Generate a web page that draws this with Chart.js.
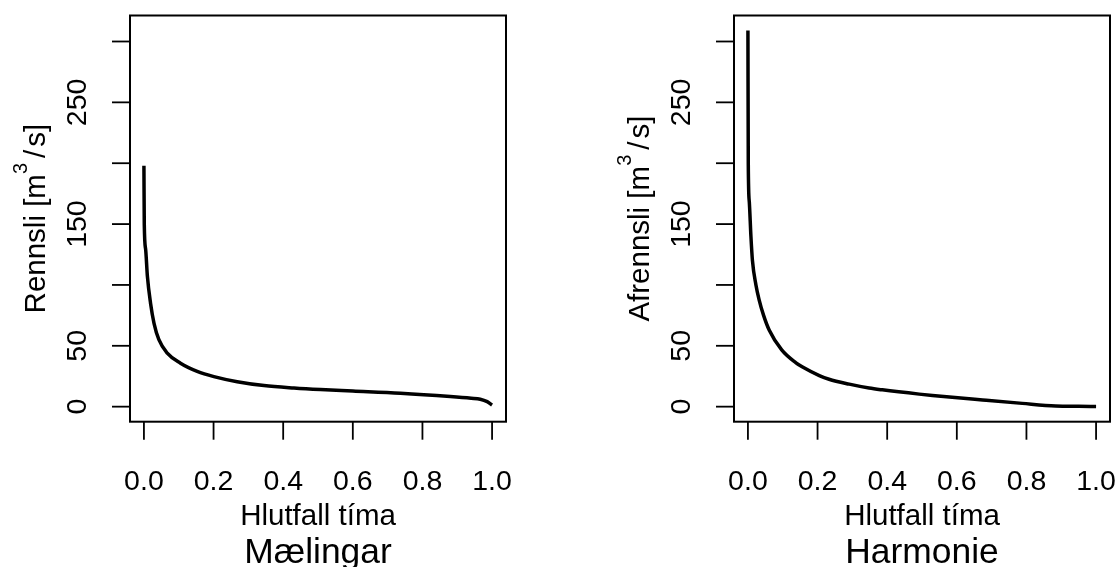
<!DOCTYPE html>
<html>
<head>
<meta charset="utf-8">
<script src="https://cdn.jsdelivr.net/npm/chart.js@4"></script>
<style>
  html, body { margin: 0; padding: 0; background: #ffffff; width: 1119px; height: 567px; overflow: hidden; }
  canvas { position: absolute; top: 0; }
  #c1 { left: 0px; }
  #c2 { left: 604px; }
</style>
</head>
<body>
<canvas id="c1" width="515" height="567"></canvas>
<canvas id="c2" width="515" height="567"></canvas>
<script>
// ---- data ----
const maelingarX = [0.000, 0.001, 0.005, 0.010, 0.019, 0.029, 0.043, 0.067, 0.105, 0.153, 0.201, 0.268, 0.345, 0.431, 0.507, 0.600, 0.737, 0.880, 0.940, 0.966, 0.986, 1.000];
const maelingarQ = [198, 150, 129, 107, 85, 68.5, 55, 44, 35.7, 29, 24.7, 20.5, 17.3, 15.3, 14, 12.8, 11, 8.3, 6.9, 6.1, 4.1, 1.4];

const harmonieX = [0.000, 0.001, 0.004, 0.0086, 0.013, 0.023, 0.032, 0.045, 0.061, 0.097, 0.138, 0.157, 0.205, 0.233, 0.291, 0.348, 0.386, 0.492, 0.530, 0.674, 0.788, 0.884, 0.950, 1.000];
const harmonieQ = [309, 200, 168, 140, 120, 100, 88, 75, 63, 46.6, 36, 32.5, 25.5, 22.5, 18.5, 15.3, 13.8, 10.3, 9.2, 5.5, 2.7, 0.6, 0.3, 0.2];

const xTicks = [0, 0.2, 0.4, 0.6, 0.8, 1.0];
const xTickLabels = ['0.0', '0.2', '0.4', '0.6', '0.8', '1.0'];
const yTicks = [0, 50, 100, 150, 200, 250, 300];
const yTickLabels = ['0', '50', '', '150', '', '250', ''];

const xTitle = 'Hlutfall tíma';
const panelTitles = ['Mælingar', 'Harmonie'];
const yTitleWords = ['Rennsli', 'Afrennsli'];

const FONT = '"Liberation Sans", Arial, sans-serif';

function makeAxesPlugin(yWord, title) {
  return {
    id: 'rAxes',
    afterDraw(chart) {
      const ctx = chart.ctx;
      const a = chart.chartArea;
      const xs = chart.scales.x, ys = chart.scales.y;
      ctx.save();
      ctx.strokeStyle = '#000';
      ctx.fillStyle = '#000';
      // box
      ctx.lineWidth = 2;
      ctx.strokeRect(a.left, a.top, a.right - a.left, a.bottom - a.top);
      // x ticks
      ctx.lineWidth = 1.8;
      ctx.font = '28.5px ' + FONT;
      ctx.textAlign = 'center';
      ctx.textBaseline = 'alphabetic';
      xTicks.forEach((v, i) => {
        const px = xs.getPixelForValue(v);
        ctx.beginPath();
        ctx.moveTo(px, a.bottom);
        ctx.lineTo(px, a.bottom + 18);
        ctx.stroke();
        ctx.fillText(xTickLabels[i], px, a.bottom + 68.7);
      });
      // y ticks
      yTicks.forEach((v, i) => {
        const py = ys.getPixelForValue(v);
        ctx.beginPath();
        ctx.moveTo(a.left, py);
        ctx.lineTo(a.left - 18, py);
        ctx.stroke();
        if (yTickLabels[i]) {
          ctx.save();
          ctx.translate(a.left - 44.5, py);
          ctx.rotate(-Math.PI / 2);
          ctx.textAlign = 'center';
          ctx.fillText(yTickLabels[i], 0, 0);
          ctx.restore();
        }
      });
      // x title
      const cx = (a.left + a.right) / 2;
      ctx.font = '29.5px ' + FONT;
      ctx.textAlign = 'center';
      ctx.fillText(xTitle, cx, 525);
      // panel title
      ctx.font = '35.4px ' + FONT;
      ctx.fillText(title, cx, 563);
      // y title with superscript
      const cy = (a.top + a.bottom) / 2;
      const mainFont = '29.5px ' + FONT;
      const supFont = '20px ' + FONT;
      const part1 = yWord + ' [m';
      ctx.font = mainFont;
      const w1 = ctx.measureText(part1).width;
      const wSlash = ctx.measureText('/').width;
      const wEnd = ctx.measureText('s]').width;
      ctx.font = supFont;
      const w3 = ctx.measureText('3').width;
      const gapA = 5, gapB = 3;
      const total = w1 + w3 + gapA + wSlash + gapB + wEnd;
      ctx.save();
      ctx.translate(a.left - 85.5, cy);
      ctx.rotate(-Math.PI / 2);
      ctx.textAlign = 'left';
      let pos = -total / 2;
      ctx.font = mainFont;
      ctx.fillText(part1, pos, 0);
      pos += w1;
      ctx.font = supFont;
      ctx.fillText('3', pos, -18);
      pos += w3 + gapA;
      ctx.font = mainFont;
      ctx.fillText('/', pos, 0);
      pos += wSlash + gapB;
      ctx.fillText('s]', pos, 0);
      ctx.restore();
      ctx.restore();
    }
  };
}

function makeChart(id, xsArr, qArr, yWord, title) {
  const pts = xsArr.map((x, i) => ({ x: x, y: qArr[i] }));
  return new Chart(document.getElementById(id), {
    type: 'line',
    data: {
      datasets: [{
        data: pts,
        borderColor: '#000000',
        borderWidth: 3.5,
        pointRadius: 0,
        fill: false,
        cubicInterpolationMode: 'monotone'
      }]
    },
    options: {
      responsive: false,
      animation: false,
      events: [],
      layout: { padding: { left: 130, right: 9, top: 15.5, bottom: 145.3 } },
      plugins: { legend: { display: false }, tooltip: { enabled: false } },
      scales: {
        x: { type: 'linear', min: -0.04, max: 1.04, display: false },
        y: { type: 'linear', min: -12.36, max: 321.36, display: false }
      }
    },
    plugins: [makeAxesPlugin(yWord, title)]
  });
}

makeChart('c1', maelingarX, maelingarQ, yTitleWords[0], panelTitles[0]);
makeChart('c2', harmonieX, harmonieQ, yTitleWords[1], panelTitles[1]);
</script>
</body>
</html>
